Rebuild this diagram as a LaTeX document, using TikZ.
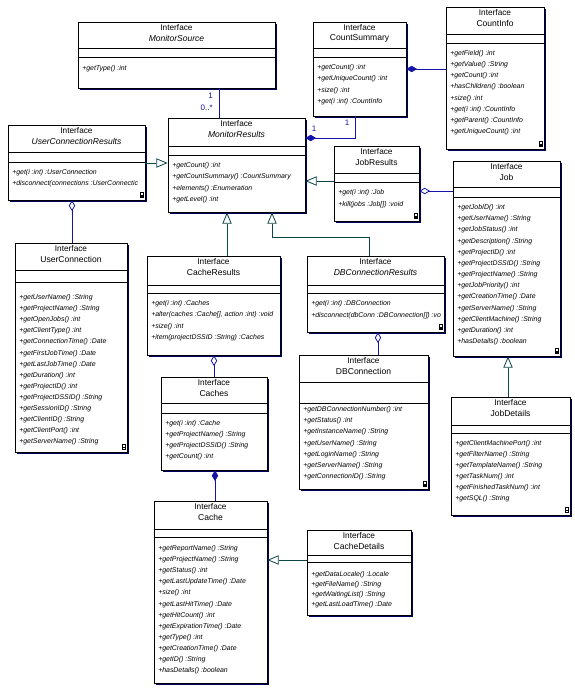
\documentclass[tikz,border=0pt]{standalone}
\usepackage{fontspec}
\setmainfont{Liberation Sans}
\usetikzlibrary{arrows.meta,fit,shadows,calc,positioning}

\definecolor{assocblue}{RGB}{20,20,170}
\definecolor{genteal}{RGB}{10,70,70}
\definecolor{shadenavy}{RGB}{0,0,100}

\tikzset{
  ifbox/.style={draw, fill=white, inner sep=0pt, line width=0.6pt,
    drop shadow={shadow xshift=1.4pt, shadow yshift=-1.4pt, fill=shadenavy, opacity=1}},
  compline/.style={line width=0.6pt},
  stereo/.style={inner sep=0pt, font=\fontsize{6.2}{7}\selectfont},
  ifname/.style={inner sep=0pt, font=\fontsize{6.4}{7}\selectfont},
  oper/.style={anchor=west, inner sep=0pt, text height=3.6pt, text depth=1.2pt,
    font=\fontsize{5.2}{6}\selectfont\itshape},
  mult/.style={inner sep=0pt, text=assocblue, font=\fontsize{6}{7}\selectfont},
  assoc/.style={draw=assocblue, line width=0.6pt},
  compo/.style={assoc, {Diamond[length=8pt, width=4.8pt]}-},
  aggr/.style={assoc, {Diamond[open, length=8pt, width=4.8pt]}-},
  gen/.style={draw=genteal, line width=0.6pt, -{Triangle[open, length=8.5pt, width=7pt]}}
}

% interface box: name, x1, y1, x2, y2, first rule, second rule, title
\newcommand{\iface}[8]{%
  \node[ifbox, fit={(#2,#3) (#4,#5)}] (#1) {};
  \draw[compline] (#2,#6) -- (#4,#6) (#2,#7) -- (#4,#7);
  \node[stereo] (#1-st) at ($(#1.north)+(0,5.5)$) {Interface};
  \node[ifname] (#1-nm) at ($(#1.north)+(0,16.5)$) {#8};
}
% operations: box name, x, y of first line, line step, list
\newcommand{\opslist}[5]{%
  \foreach \op [count=\k] in {#5}
    \node[oper] (#1-op\k) at (#2,{#3+#4*(\k-1)}) {\op};
}
% small marks in the lower right corner
\newcommand{\lockmark}[1]{%
  \fill ($(#1.south east)+(-5.5,-2.5)$) rectangle ($(#1.south east)+(-1.5,-5.5)$);
  \draw[line width=0.4pt] ($(#1.south east)+(-5,-5.5)$) -- ++(0,-2.5) -- ++(3,0) -- ++(0,2.5);
}
\newcommand{\eightmark}[1]{%
  \draw[line width=0.5pt] ($(#1.south east)+(-5.5,-3)$) rectangle ($(#1.south east)+(-2,-5.5)$)
    ($(#1.south east)+(-5,-5.5)$) rectangle ($(#1.south east)+(-2.5,-8.5)$);
}

\begin{document}
\begin{tikzpicture}[x=0.75pt, y=-0.75pt]
	\useasboundingbox (0,0) rectangle (575,694);
	% the interfaces
	\iface{msrc}{78}{22}{275}{88}{48}{57}{\textit{MonitorSource}}
	\opslist{msrc}{82}{69}{11}{+getType() :int}
	\iface{cntsum}{313}{22}{406}{116}{48}{57}{CountSummary}
	\opslist{cntsum}{317}{68}{11.2}{+getCount() :int, +getUniqueCount() :int, +size() :int, +get(i :int) :CountInfo}
	\iface{cntinfo}{446}{7}{544}{149}{34}{43}{CountInfo}
	\opslist{cntinfo}{450}{54}{11.1}{+getField() :int, +getValue() :String, +getCount() :int,
	  +hasChildren() :boolean, +size() :int, +get(i :int) :CountInfo, +getParent() :CountInfo,
	  +getUniqueCount() :int}
	\lockmark{cntinfo}
	\iface{ucr}{8}{125}{145}{200}{152}{162}{\textit{UserConnectionResults}}
	\opslist{ucr}{12}{173}{10.5}{+get(i :int) :UserConnection, +disconnect(connections :UserConnectic}
	\lockmark{ucr}
	\iface{monres}{168}{118}{305}{212}{146}{155}{\textit{MonitorResults}}
	\opslist{monres}{172}{166}{11.2}{+getCount() :int, +getCountSummary() :CountSummary,
	  +elements() :Enumeration, +getLevel() :int}
	\iface{jobres}{334}{146}{419}{221}{173}{182}{JobResults}
	\opslist{jobres}{338}{193}{11.5}{+get(i :int) :Job, +kill(jobs :Job[]) :void}
	\lockmark{jobres}
	\iface{job}{453}{161}{560}{356}{187}{197}{Job}
	\opslist{job}{457}{208}{11.17}{+getJobID() :int, +getUserName() :String, +getJobStatus() :int,
	  +getDescription() :String, +getProjectID() :int, +getProjectDSSID() :String,
	  +getProjectName() :String, +getJobPriority() :int, +getCreationTime() :Date,
	  +getServerName() :String, +getClientMachine() :String, +getDuration() :int,
	  +hasDetails() :boolean}
	\lockmark{job}
	\iface{jobdet}{451}{397}{570}{515}{425}{433}{JobDetails}
	\opslist{jobdet}{455}{444}{11}{+getClientMachinePort() :int, +getFilterName() :String,
	  +getTemplateName() :String, +getTaskNum() :int, +getFinishedTaskNum() :int, +getSQL() :String}
	\eightmark{jobdet}
	\iface{usercon}{15}{243}{127}{452}{270}{282}{UserConnection}
	\opslist{usercon}{19}{298}{11.08}{+getUserName() :String, +getProjectName() :String,
	  +getOpenJobs() :int, +getClientType() :int, +getConnectionTime() :Date,
	  +getFirstJobTime() :Date, +getLastJobTime() :Date, +getDuration() :int, +getProjectID() :int,
	  +getProjectDSSID() :String, +getSessionID() :String, +getClientID() :String,
	  +getClientPort() :int, +getServerName() :String}
	\eightmark{usercon}
	\iface{cacheres}{147}{256}{280}{355}{285}{293}{CacheResults}
	\opslist{cacheres}{151}{304}{11.3}{+get(i :int) :Caches, {+alter(caches :Cache[], action :int) :void},
	  +size() :int, +item(projectDSSID :String) :Caches}
	\iface{dbres}{307}{256}{444}{332}{285}{293}{\textit{DBConnectionResults}}
	\opslist{dbres}{311}{304}{11.5}{+get(i :int) :DBConnection, +disconnect(dbConn :DBConnection[]) :vo}
	\lockmark{dbres}
	\iface{caches}{161}{377}{267}{470}{403}{413}{Caches}
	\opslist{caches}{165}{424}{11}{+get(i :int) :Cache, +getProjectName() :String,
	  +getProjectDSSID() :String, +getCount() :int}
	\iface{dbcon}{299}{355}{428}{489}{382}{403}{DBConnection}
	\opslist{dbcon}{303}{410}{11.17}{+getDBConnectionNumber() :int, +getStatus() :int,
	  +getInstanceName() :String, +getUserName() :String, +getLoginName() :String,
	  +getServerName() :String, +getConnectionID() :String}
	\lockmark{dbcon}
	\iface{cache}{154}{501}{267}{683}{529}{537}{Cache}
	\opslist{cache}{158}{549}{11.09}{+getReportName() :String, +getProjectName() :String,
	  +getStatus() :int, +getLastUpdateTime() :Date, +size() :int, +getLastHitTime() :Date,
	  +getHitCount() :int, +getExpirationTime() :Date, +getType() :int, +getCreationTime() :Date,
	  +getID() :String, +hasDetails() :boolean}
	\iface{cachedet}{307}{530}{411}{615}{555}{562}{CacheDetails}
	\opslist{cachedet}{311}{575}{10}{+getDataLocale() :Locale, +getFileName() :String,
	  +getWaitingList() :String, +getLastLoadTime() :Date}
	% associations
	\draw[assoc] (msrc.south -| 219,0) -- (monres.north -| 219,0);
	\node[mult, anchor=east] (msrc-one) at (213,96) {1};
	\node[mult, anchor=east] (monres-many) at (213,108) {0..*};
	\coordinate (csbend) at (355,138);
	\draw[compo] (monres.east |- csbend) -| (cntsum.south -| csbend);
	\node[mult] (cntsum-one) at (347,123) {1};
	\node[mult] (monres-one) at (314,129) {1};
	\draw[compo] (cntsum.east |- 0,69) -- (cntinfo.west |- 0,69);
	\draw[aggr] (jobres.east |- 0,191) -- (job.west |- 0,191);
	\draw[aggr] (ucr.south -| 72,0) -- (usercon.north -| 72,0);
	\draw[aggr] (cacheres.south -| 214,0) -- (caches.north -| 214,0);
	\draw[aggr] (dbres.south -| 378,0) -- (dbcon.north -| 378,0);
	\draw[compo] (caches.south -| 215,0) -- (cache.north -| 215,0);
	% generalizations
	\draw[gen] (ucr.east |- 0,163) -- (monres.west |- 0,163);
	\draw[gen] (jobres.west |- 0,181) -- (monres.east |- 0,181);
	\draw[gen] (cacheres.north -| 227,0) -- (monres.south -| 227,0);
	\coordinate (dbbend) at (272,237);
	\draw[gen] (dbres.north -| 369,0) |- (dbbend) -- (monres.south -| dbbend);
	\draw[gen] (jobdet.north -| 508,0) -- (job.south -| 508,0);
	\draw[gen] (cachedet.west |- 0,560) -- (cache.east |- 0,560);
\end{tikzpicture}
\end{document}
